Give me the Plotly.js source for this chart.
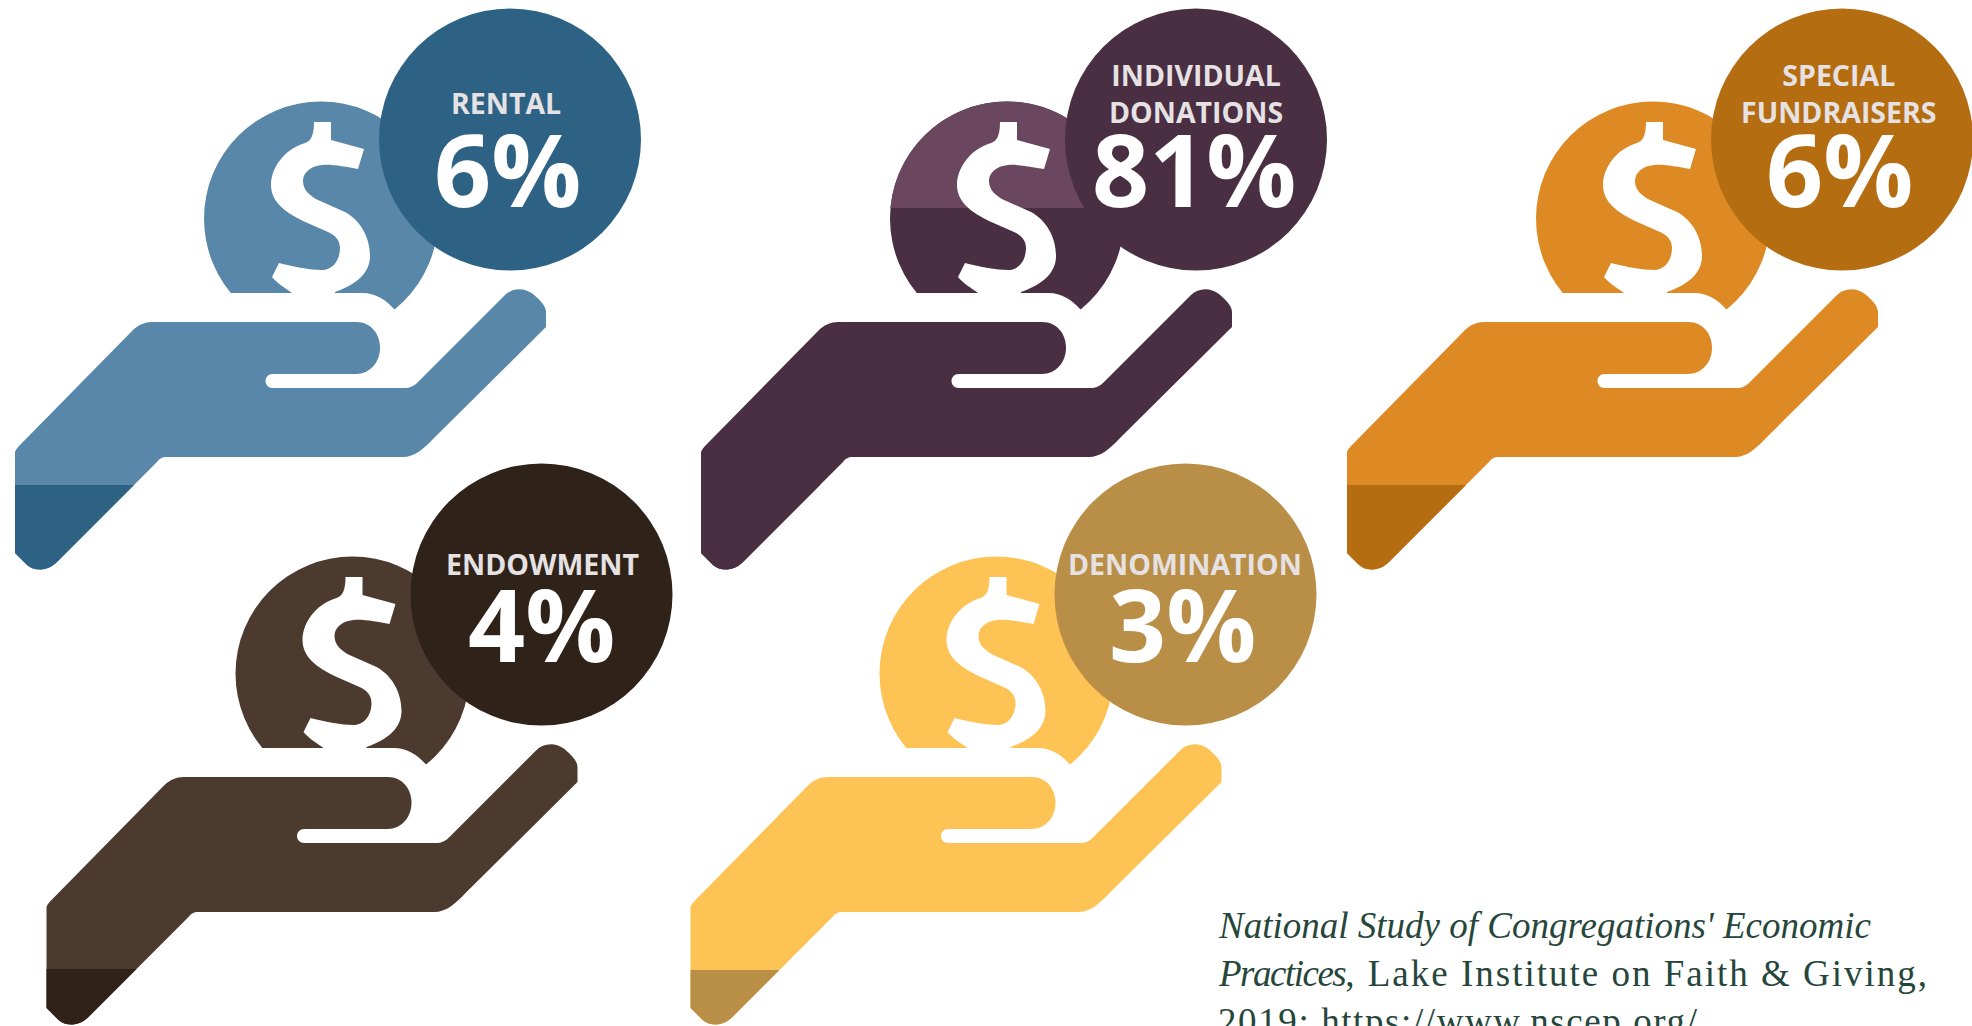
<!DOCTYPE html>
<html>
<head>
<meta charset="utf-8">
<script src="https://cdn.plot.ly/plotly-3.0.1.min.js"></script>
<style>
  html, body { margin: 0; padding: 0; background: #fff; overflow: hidden; }
  #chart { width: 1972px; height: 1026px; }
</style>
</head>
<body>
<div id="chart"></div>
<script>
// Congregational income sources
const sources = ['RENTAL', 'INDIVIDUAL<br>DONATIONS', 'SPECIAL<br>FUNDRAISERS', 'ENDOWMENT', 'DENOMINATION'];
const shares = [6, 81, 6, 4, 3];
const citationTitle = ['National Study of Congregations\' Economic', 'Practices'];
const citationPublisher = ', Lake Institute on Faith &amp; Giving,';
const citationLink = '2019: https://www.nscep.org/';

// Icon placement on the page and per-icon palette
const iconX = [0, 686, 1332, 31.5, 675.5];
const iconY = [0, 0, 0, 455, 455];
const tipCut = [485, 485, 485, 514, 515];
const lightColors = ['#5887a9', '#4a2e42', '#dd8a25', '#4c3a2e', '#fec355'];
const darkColors = ['#2d6285', '#4a2e42', '#b56d12', '#2f2219', '#b98f48'];
const bandColors = [null, '#6a465f', null, null, null];

// Pictogram outlines in the icon's own coordinates
const handPath = 'M 15 452 C 16 449 18 447 20 445 L 133 330 C 138 325 145 322 152 322 L 356 322 ' +
  'C 372 322 380 335 380 348 C 380 362 370 374 356 374 L 273 374 C 263 374 263 388 273 388 ' +
  'L 405 388 C 410 388 414 386 418 382 L 505 295 C 512 288 524 287 533 294 C 540 300 546 306 546 312 ' +
  'L 546 327 L 434 438 C 424 449 414 457 403 457 L 167 457 C 162 457 159 459 157 462 ' +
  'L 57 562 C 48 571 35 572 27 565 L 15 553 Z';
const maskPath = 'M 190 293 L 362 293 C 376 293 386 300 394 309 L 440 345 L 190 345 Z';
const dollarPath = 'M 314 122 L 331 122 L 331 140 L 364 149 L 358 169 C 346 167 332 164 322 165 ' +
  'C 310 166 303 173 303 181 C 303 190 310 196 318 200 L 345 212 C 360 220 370 237 370 256 ' +
  'C 370 272 358 284 335 292 L 335 295 L 292 295 L 292 293 C 285 288 277 283 272 277 L 279 263 ' +
  'C 295 267 310 270 322 270 C 333 270 340 260 340 248 C 340 240 335 235 328 232 L 303 221 ' +
  'C 285 212 271 202 271 185 C 271 170 282 150 305 143 C 311 141 314 135 314 122 Z';

const coin = { x: 321, y: 218.5, r: 117, bandBottom: 208 };
const badge = { x: 510, y: 139.5, r: 131 };

// Text anchors for the labels and percentages inside each badge
const labelX = [506, 1196, 1839, 542, 1185];
const valueX = [507, 1194, 1839, 541, 1182];
const labelY = [103, 93, 93, 564, 564];
const valueY = [168, 168, 168, 623, 623];
const citationY = [925, 973, 1021];

function shift(path, dx, dy) {
  return path.replace(/(-?[\d.]+) (-?[\d.]+)/g, (m, a, b) => (+a + dx) + ' ' + (+b + dy));
}

// Upper slice of a coin above a horizontal line, built as a fine polyline
function capPath(cx, cy, r, yLine) {
  const half = Math.asin((cy - yLine) / r);
  const pts = [];
  for (let i = 0; i <= 48; i++) {
    const a = Math.PI - half - (Math.PI - 2 * half) * i / 48;
    pts.push((cx + r * Math.cos(a)).toFixed(2) + ' ' + (cy - r * Math.sin(a)).toFixed(2));
  }
  return 'M ' + pts.join(' L ') + ' Z';
}

// Lower end of the hand, below a horizontal cut, following the outer edge
function tipPath(cut) {
  const edgeX = 57 + (562 - cut);
  return 'M 15 ' + cut + ' L ' + edgeX + ' ' + cut + ' L 57 562 C 48 571 35 572 27 565 L 15 553 Z';
}

const spaced = (text, px) => '<span style="letter-spacing:' + px + 'px">' + text + '</span>';
const citationLines = [
  '<i>' + citationTitle[0] + '</i>',
  '<i>' + spaced(citationTitle[1], -1.5) + '</i>' + spaced(citationPublisher, 2),
  spaced(citationLink, 1.6)
];

const shapes = [];
const annotations = [];
const geo = { xref: 'x', yref: 'y', line: { width: 0 } };

sources.forEach((name, i) => {
  const dx = iconX[i], dy = iconY[i];
  const circle = (c, fill) => ({ ...geo, type: 'circle', fillcolor: fill,
    x0: c.x + dx - c.r, x1: c.x + dx + c.r, y0: c.y + dy - c.r, y1: c.y + dy + c.r });
  const path = (p, fill) => ({ ...geo, type: 'path', path: shift(p, dx, dy), fillcolor: fill });

  shapes.push(circle(coin, lightColors[i]));
  if (bandColors[i]) {
    shapes.push({ ...geo, type: 'path', fillcolor: bandColors[i],
      path: capPath(coin.x + dx, coin.y + dy, coin.r, coin.bandBottom + dy) });
  }
  shapes.push(path(maskPath, '#ffffff'));
  shapes.push(path(dollarPath, '#ffffff'));
  shapes.push(path(handPath, lightColors[i]));
  shapes.push(path(tipPath(tipCut[i]), darkColors[i]));
  shapes.push(circle(badge, darkColors[i]));

  annotations.push({
    xref: 'x', yref: 'y', x: labelX[i], y: labelY[i], text: name, showarrow: false,
    xanchor: 'center', yanchor: 'middle', align: 'center',
    font: { family: 'Open Sans, sans-serif', size: 28.5, color: '#e6e2e4', weight: 700 }
  });
  annotations.push({
    xref: 'x', yref: 'y', x: valueX[i], y: valueY[i], text: shares[i] + '%', showarrow: false,
    xanchor: 'center', yanchor: 'middle',
    font: { family: 'Open Sans, sans-serif', size: 100, color: '#ffffff', weight: 700 }
  });
});

citationLines.forEach((line, i) => {
  annotations.push({
    xref: 'x', yref: 'y', x: 1216, y: citationY[i], text: line, showarrow: false,
    xanchor: 'left', yanchor: 'middle', align: 'left',
    font: { family: 'Liberation Serif, serif', size: 37, color: '#26463b' }
  });
});

Plotly.newPlot('chart', [], {
  width: 1972,
  height: 1026,
  margin: { l: 0, r: 0, t: 0, b: 0 },
  paper_bgcolor: '#ffffff',
  plot_bgcolor: '#ffffff',
  showlegend: false,
  xaxis: { range: [0, 1972], visible: false, fixedrange: true },
  yaxis: { range: [1026, 0], visible: false, fixedrange: true },
  shapes: shapes,
  annotations: annotations
}, { staticPlot: true, displayModeBar: false });
</script>
</body>
</html>
